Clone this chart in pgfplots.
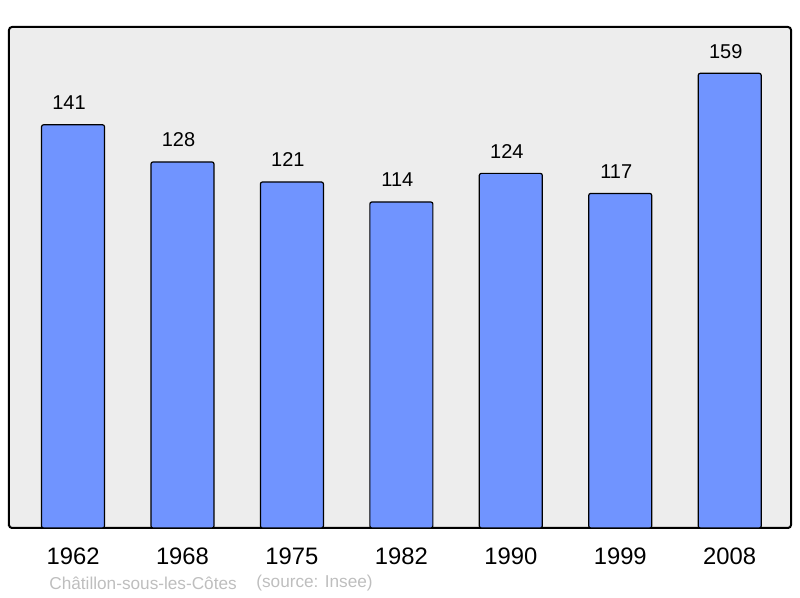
\documentclass[border=0pt]{standalone}
\usepackage{fontspec}
\setmainfont{Liberation Sans}
\usepackage{pgfplots}
\pgfplotsset{compat=1.18}
\definecolor{barblue}{RGB}{112,148,255}
\definecolor{bgray}{RGB}{237,237,237}
\definecolor{foot}{RGB}{190,190,190}
\begin{document}
\begin{tikzpicture}
\path[use as bounding box] (0,0) rectangle (400pt,299pt);
\begin{axis}[at={(4.5pt,35pt)}, anchor=south west,
  scale only axis, width=391pt, height=250.5pt,
  xmin=-0.585, xmax=6.56, ymin=0, ymax=175.2,
  /pgf/number format/assume math mode=true,
  axis background/.style={fill=bgray},
  axis line style={line width=1pt, rounded corners=1.5pt},
  ytick=\empty, xtick=data,
  xticklabels={1962,1968,1975,1982,1990,1999,2008},
  major tick length=0pt,
  xticklabel style={font=\fontsize{11.9}{14}\selectfont, anchor=center, yshift=-14.3pt},
  ybar, bar width=31.5pt,
  nodes near coords,
  nodes near coords style={font=\fontsize{10}{12}\selectfont, anchor=center, yshift=11pt, xshift=-2pt},
  clip=false]
\addplot[fill=barblue, draw=black, line width=0.6pt, rounded corners=1pt]
  coordinates {(0,141)(1,128)(2,121)(3,114)(4,124)(5,117)(6,159)};
\end{axis}
\node[anchor=west, inner sep=0pt, text=foot, font=\fontsize{8.6}{10}\selectfont] at (24.5pt,7.5pt) {Châtillon-sous-les-Côtes};
\node[anchor=west, inner sep=0pt, text=foot, font=\fontsize{8.6}{10}\selectfont] at (128pt,7.5pt) {(source: Insee)};
\end{tikzpicture}
\end{document}
